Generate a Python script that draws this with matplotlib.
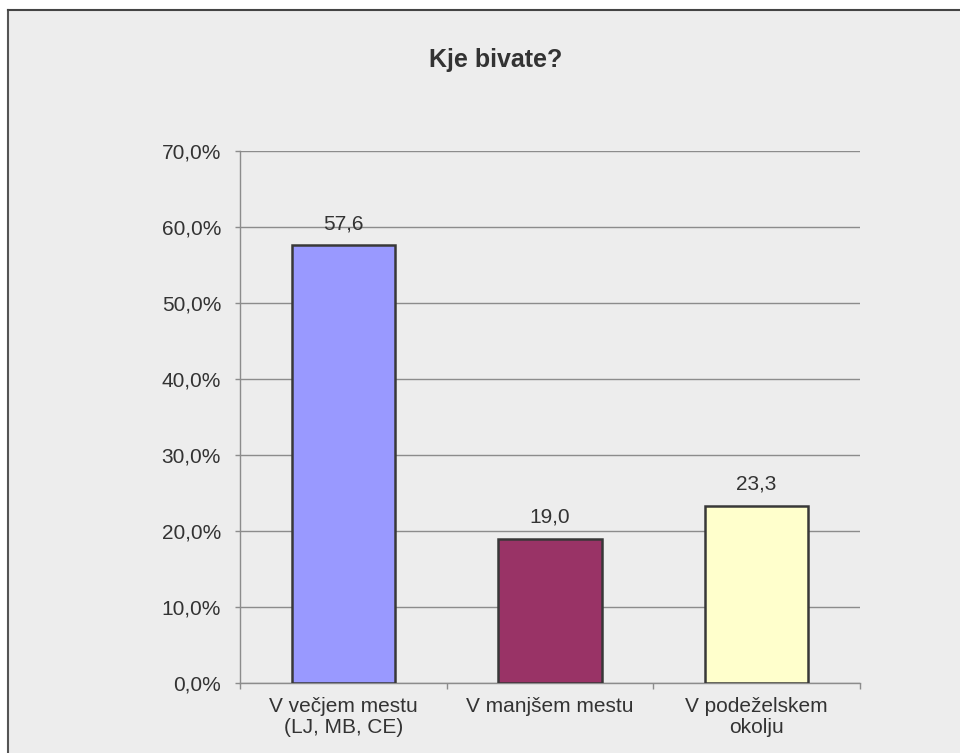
import matplotlib
matplotlib.use("Agg")
from matplotlib import pyplot as plt
from matplotlib.patches import Rectangle
from matplotlib.ticker import FuncFormatter, MultipleLocator

plt.rcParams["font.family"] = ["Liberation Sans", "DejaVu Sans"]

# podatki ankete
kategorije = ["V večjem mestu\n(LJ, MB, CE)", "V manjšem mestu", "V podeželskem\nokolju"]
deleži = [57.6, 19.0, 23.3]
barve = ["#9999ff", "#993366", "#ffffcc"]
naslov = "Kje bivate?"

tekst = "#333333"
ozadje = "#ededed"
mreža = "#8c8c8c"
fs = 15

fig = plt.figure(figsize=(9.6, 7.53), dpi=100, facecolor="white")

# sivo ozadje grafikona z robom zgoraj in levo
fig.add_artist(Rectangle((8 / 960, 0), 1, 1 - 10 / 753, transform=fig.transFigure,
                         facecolor=ozadje, edgecolor="none", zorder=-5))
fig.add_artist(plt.Line2D([8 / 960, 8 / 960], [0, 1 - 10 / 753], transform=fig.transFigure,
                          color="#555555", lw=1.5, zorder=-4))
fig.add_artist(plt.Line2D([8 / 960, 1], [1 - 10 / 753, 1 - 10 / 753], transform=fig.transFigure,
                          color="#444444", lw=1.5, zorder=-4))

ax = fig.add_axes([240 / 960, 1 - 683 / 753, 620 / 960, 532 / 753])
ax.set_facecolor("none")

x = list(range(len(kategorije)))
ax.bar(x, deleži, width=0.5, color=barve, edgecolor="#383838", linewidth=1.8, zorder=3)

for xi, v in zip(x, deleži):
    ax.annotate(f"{v:.1f}".replace(".", ","), (xi, v), xytext=(0, 11.5), textcoords="offset points",
                ha="center", va="baseline", fontsize=fs, color=tekst)

ax.set_xlim(-0.5, len(kategorije) - 0.5)
ax.set_ylim(0, 70)
ax.yaxis.set_major_locator(MultipleLocator(10))
ax.yaxis.set_major_formatter(FuncFormatter(lambda v, p: f"{v:.1f}%".replace(".", ",")))
ax.grid(axis="y", color=mreža, lw=1.0, zorder=1)

# kljukice osi x na mejah kategorij
ax.set_xticks([i - 0.5 for i in range(len(kategorije) + 1)])
ax.set_xticklabels([])
ax.set_xticks(x, minor=True)
ax.set_xticklabels(kategorije, minor=True, fontsize=fs, color=tekst, linespacing=1.12)
ax.tick_params(axis="x", which="minor", length=0, pad=10)
ax.tick_params(axis="x", which="major", length=4.3, color=mreža, width=1.0)
ax.tick_params(axis="y", length=3.6, color=mreža, width=1.0, labelsize=fs,
               labelcolor=tekst, pad=10)

for s in ["top", "right"]:
    ax.spines[s].set_visible(False)
for s in ["left", "bottom"]:
    ax.spines[s].set_color(mreža)
    ax.spines[s].set_linewidth(1.0)

fig.text(496 / 960, 1 - 67 / 753, naslov, ha="center", va="baseline", fontsize=18,
         fontweight="bold", color=tekst)

fig.savefig("out.png", dpi=100, facecolor="white")
